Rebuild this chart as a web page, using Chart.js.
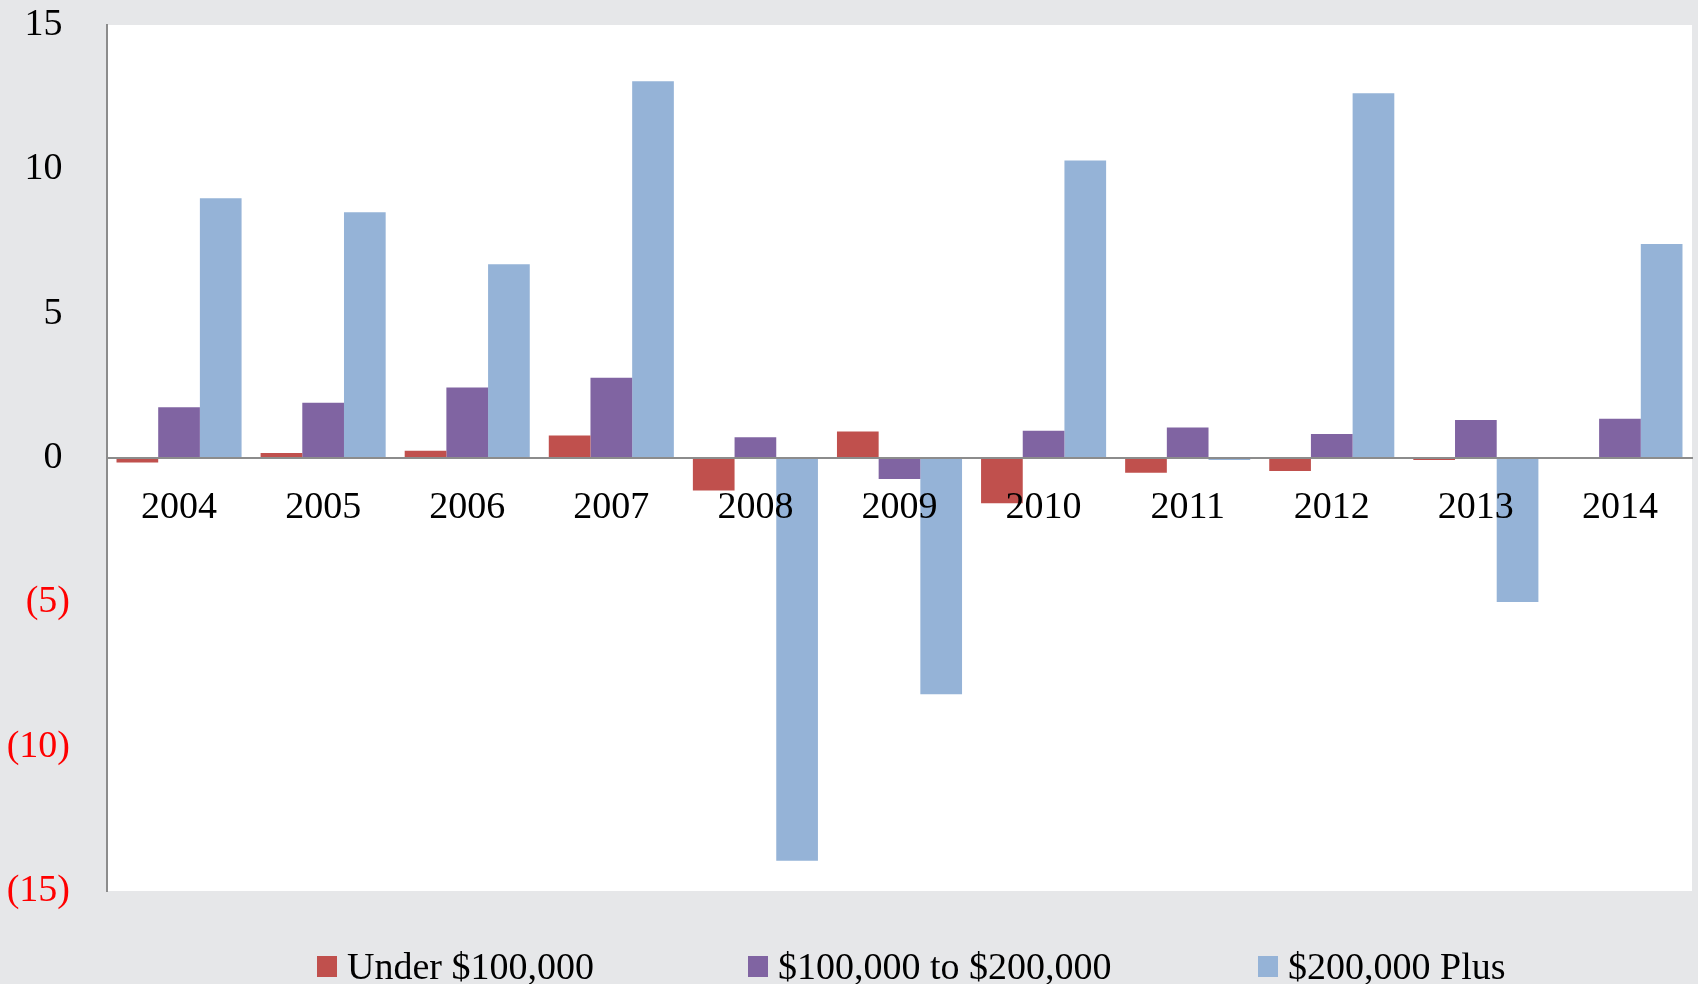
<!DOCTYPE html>
<html>
<head>
<meta charset="utf-8">
<script src="https://cdn.jsdelivr.net/npm/chart.js@4.4.1/dist/chart.umd.min.js"></script>
<style>
  html, body { margin: 0; padding: 0; background: #e6e7e9; }
  #wrap { position: relative; width: 1698px; height: 984px; overflow: hidden; }
  #c { position: absolute; left: 0; top: 0; }
  .lg { position: absolute; top: 943px; height: 46px; display: flex; align-items: center;
        font-family: "Liberation Serif", serif; font-size: 38px; color: #000; white-space: nowrap; }
  .lg .bx { width: 20px; height: 21px; margin-right: 10px; }
</style>
</head>
<body>
<div id="wrap">
  <canvas id="c" width="1698" height="984"></canvas>
</div>
<script>
const years = ["2004","2005","2006","2007","2008","2009","2010","2011","2012","2013","2014"];
const seriesNames = ["Under $100,000", "$100,000 to $200,000", "$200,000 Plus"];
const under100k = [-0.16, 0.17, 0.25, 0.78, -1.13, 0.92, -1.57, -0.51, -0.45, -0.07, -0.03];
const from100kTo200k = [1.76, 1.91, 2.44, 2.78, 0.72, -0.73, 0.94, 1.06, 0.83, 1.32, 1.36];
const plus200k = [9.0, 8.51, 6.71, 13.05, -13.95, -8.18, 10.31, -0.07, 12.64, -4.99, 7.41];
const yTicks = [-15, -10, -5, 0, 5, 10, 15];
const seriesColors = ["#C0504D", "#8064A2", "#95B3D7"];

const FONT = "'Liberation Serif', serif";

const plotBg = {
  id: 'plotBg',
  beforeDraw(chart) {
    const a = chart.chartArea, ctx = chart.ctx;
    ctx.save();
    ctx.fillStyle = '#ffffff';
    ctx.fillRect(a.left, a.top, a.right - a.left, a.bottom - a.top);
    ctx.restore();
  }
};

const values = [under100k, from100kTo200k, plus200k];

const chart = new Chart(document.getElementById('c'), {
  type: 'bar',
  data: {
    labels: years,
    datasets: seriesNames.map((n, i) => ({
      label: n,
      data: values[i],
      backgroundColor: seriesColors[i],
      borderWidth: 0,
      categoryPercentage: 0.868,
      barPercentage: 1.0
    }))
  },
  options: {
    responsive: false,
    devicePixelRatio: 1,
    animation: false,
    layout: { padding: { top: 25, right: 6, bottom: 93, left: 0 } },
    plugins: { legend: { display: false }, tooltip: { enabled: false } },
    scales: {
      y: {
        min: yTicks[0],
        max: yTicks[yTicks.length - 1],
        afterBuildTicks(scale) { scale.ticks = yTicks.map(v => ({ value: v })); },
        afterFit(scale) { scale.width = 107; scale.paddingTop = 20; scale.paddingBottom = 20; },
        grid: { display: false, drawTicks: false },
        border: { display: true, color: '#8c8c8c', width: 2 },
        ticks: {
          padding: 37,
          font: { family: FONT, size: 38 },
          color: (ctx) => (ctx.tick && ctx.tick.value < 0) ? '#ff0000' : '#000000',
          callback: (v) => v < 0 ? '(' + Math.abs(v) + ')' : v + '\u2009'
        }
      },
      x: {
        position: { y: 0 },
        afterFit(scale) { scale.height = 0; },
        grid: { display: false, drawTicks: false },
        border: { display: true, color: '#8c8c8c', width: 2, z: 1 },
        ticks: {
          z: 1,
          padding: 27,
          font: { family: FONT, size: 38 },
          color: '#000000',
          maxRotation: 0,
          autoSkip: false
        }
      }
    }
  },
  plugins: [plotBg]
});

// HTML legend built from the series arrays
const legendLefts = [317, 748, 1258];
const wrap = document.getElementById('wrap');
seriesNames.forEach((n, i) => {
  const d = document.createElement('div');
  d.className = 'lg';
  d.style.left = legendLefts[i] + 'px';
  const b = document.createElement('span');
  b.className = 'bx';
  b.style.background = seriesColors[i];
  const t = document.createElement('span');
  t.textContent = n;
  d.appendChild(b); d.appendChild(t);
  wrap.appendChild(d);
});
</script>
</body>
</html>
